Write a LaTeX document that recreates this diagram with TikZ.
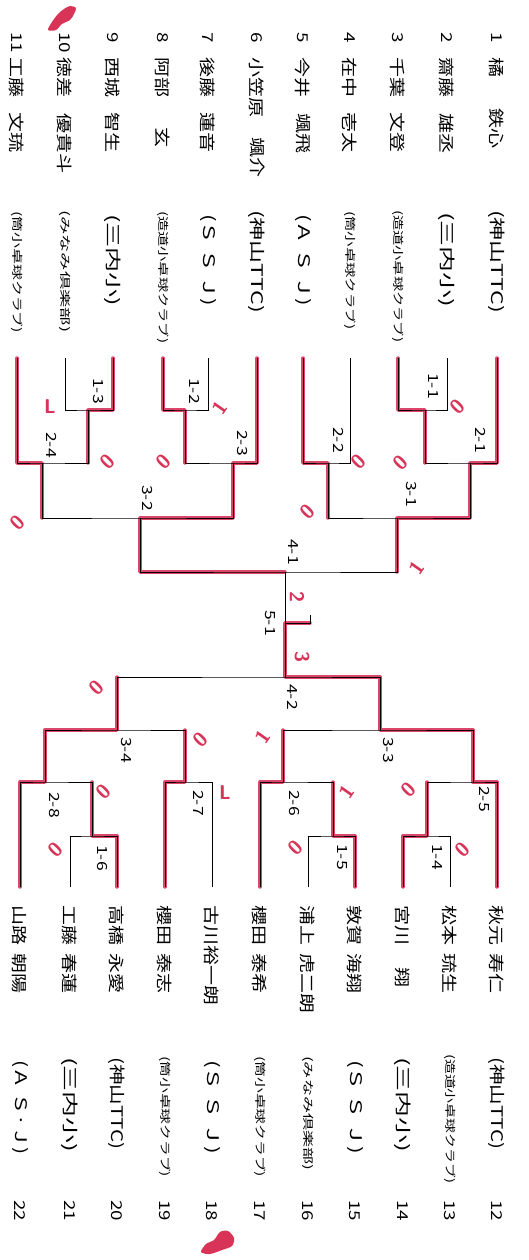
\documentclass[tikz,border=0pt]{standalone}
\usepackage{fontspec}
\usepackage{graphicx}
\usepackage{tikz}
\newfontfamily\jp[FakeStretch=1.25]{Noto Sans CJK JP}
\definecolor{penred}{RGB}{216,52,88}
\newcommand{\clubfit}[2]{\resizebox{#1}{\height}{#2}}

\begin{document}
\begin{tikzpicture}[
    x=1pt, y=-1pt,
    pnum/.style={rotate=-90, anchor=west, inner sep=0pt, font=\jp\fontsize{15}{15}\selectfont},
    pname/.style={rotate=-90, anchor=west, inner sep=0pt, font=\jp\fontsize{16}{16}\selectfont},
    club/.style={rotate=-90, anchor=west, inner sep=0pt, font=\jp\fontsize{16}{16}\selectfont},
    smallclub/.style={rotate=-90, anchor=west, inner sep=0pt, font=\jp\fontsize{11}{11}\selectfont},
    matchno/.style={rotate=-90, inner sep=0pt, font=\jp\fontsize{14}{14}\selectfont},
    penmark/.style={text=penred, inner sep=0pt, font=\sffamily\bfseries\fontsize{20}{20}\selectfont},
    bline/.style={draw=black, line width=1pt},
    win/.style={draw=penred, line width=3.4pt, opacity=0.9, line cap=round, line join=round}
]
    \path[use as bounding box, fill=white] (0,0) rectangle (528,1260);

    % Players 1-11
    \node (n1) [pnum] at (497,32) {1};
    \node (s1) [pname] at (497,57) {橘};
    \node (g1) [pname] at (497,108) {鉄心};
    \node (c1) [club] at (497,210) {\clubfit{103pt}{(神山TTC)}};
    \node (n2) [pnum] at (447,32) {2};
    \node (s2) [pname] at (447,57) {齋藤};
    \node (g2) [pname] at (447,113) {雄丞};
    \node (c2) [club] at (447,212) {\clubfit{95pt}{(三内小)}};
    \node (n3) [pnum] at (398,32) {3};
    \node (s3) [pname] at (398,57) {千葉};
    \node (g3) [pname] at (398,112) {文登};
    \node (c3) [smallclub] at (398,210) {\clubfit{132pt}{(造道小卓球クラブ)}};
    \node (n4) [pnum] at (350,32) {4};
    \node (s4) [pname] at (350,57) {在中};
    \node (g4) [pname] at (350,112) {壱太};
    \node (c4) [smallclub] at (350,211) {\clubfit{118pt}{(筒小卓球クラブ)}};
    \node (n5) [pnum] at (303,32) {5};
    \node (s5) [pname] at (303,57) {今井};
    \node (g5) [pname] at (303,113) {颯飛};
    \node (c5) [club] at (303,214) {\clubfit{92pt}{(Ａ Ｓ Ｊ)}};
    \node (n6) [pnum] at (257,32) {6};
    \node (s6) [pname] at (257,57) {小笠原};
    \node (g6) [pname] at (257,137) {颯介};
    \node (c6) [club] at (257,210) {\clubfit{103pt}{(神山TTC)}};
    \node (n7) [pnum] at (208,32) {7};
    \node (s7) [pname] at (208,57) {後藤};
    \node (g7) [pname] at (208,112) {蓮音};
    \node (c7) [club] at (208,214) {\clubfit{92pt}{(Ｓ Ｓ Ｊ)}};
    \node (n8) [pnum] at (163,32) {8};
    \node (s8) [pname] at (163,57) {阿部};
    \node (g8) [pname] at (163,127) {玄};
    \node (c8) [smallclub] at (163,211) {\clubfit{132pt}{(造道小卓球クラブ)}};
    \node (n9) [pnum] at (113,32) {9};
    \node (s9) [pname] at (113,57) {西城};
    \node (g9) [pname] at (113,112) {智生};
    \node (c9) [club] at (113,214) {\clubfit{92pt}{(三内小)}};
    \node (n10) [pnum] at (65,32) {10};
    \node (s10) [pname] at (65,57) {徳差};
    \node (g10) [pname] at (65,113) {優貴斗};
    \node (c10) [smallclub] at (65,210) {\clubfit{122pt}{(みなみ倶楽部)}};
    \node (n11) [pnum] at (17,32) {11};
    \node (s11) [pname] at (17,57) {工藤};
    \node (g11) [pname] at (17,112) {文琉};
    \node (c11) [smallclub] at (17,211) {\clubfit{122pt}{(筒小卓球クラブ)}};

    % Players 12-22
    \node (s12) [pname] at (497,905) {秋元};
    \node (g12) [pname] at (497,953) {寿仁};
    \node (c12) [club] at (497,1057) {\clubfit{92pt}{(神山TTC)}};
    \node (n12) [pnum] at (497,1200) {12};
    \node (s13) [pname] at (450,905) {松本};
    \node (g13) [pname] at (450,953) {琉生};
    \node (c13) [smallclub] at (450,1054) {\clubfit{129pt}{(造道小卓球クラブ)}};
    \node (n13) [pnum] at (450,1200) {13};
    \node (s14) [pname] at (403,905) {宮川};
    \node (g14) [pname] at (403,967) {翔};
    \node (c14) [club] at (403,1057) {\clubfit{95pt}{(三内小)}};
    \node (n14) [pnum] at (403,1200) {14};
    \node (s15) [pname] at (355,905) {敦賀};
    \node (g15) [pname] at (355,953) {海翔};
    \node (c15) [club] at (355,1060) {\clubfit{94pt}{(Ｓ Ｓ Ｊ)}};
    \node (n15) [pnum] at (355,1200) {15};
    \node (s16) [pname] at (308,905) {浦上};
    \node (g16) [pname] at (308,953) {虎二朗};
    \node (c16) [smallclub] at (308,1056) {\clubfit{114pt}{(みなみ倶楽部)}};
    \node (n16) [pnum] at (308,1200) {16};
    \node (s17) [pname] at (260,905) {櫻田};
    \node (g17) [pname] at (260,953) {泰希};
    \node (c17) [smallclub] at (260,1056) {\clubfit{121pt}{(筒小卓球クラブ)}};
    \node (n17) [pnum] at (260,1200) {17};
    \node (s18) [pname] at (212,905) {古川裕一朗};
    \node (c18) [club] at (212,1060) {\clubfit{94pt}{(Ｓ Ｓ Ｊ)}};
    \node (n18) [pnum] at (212,1200) {18};
    \node (s19) [pname] at (165,905) {櫻田};
    \node (g19) [pname] at (165,953) {泰志};
    \node (c19) [smallclub] at (165,1056) {\clubfit{121pt}{(筒小卓球クラブ)}};
    \node (n19) [pnum] at (165,1200) {19};
    \node (s20) [pname] at (117,905) {高橋};
    \node (g20) [pname] at (117,953) {永愛};
    \node (c20) [club] at (117,1057) {\clubfit{92pt}{(神山TTC)}};
    \node (n20) [pnum] at (117,1200) {20};
    \node (s21) [pname] at (70,905) {工藤};
    \node (g21) [pname] at (70,953) {春蓮};
    \node (c21) [club] at (70,1057) {\clubfit{95pt}{(三内小)}};
    \node (n21) [pnum] at (70,1200) {21};
    \node (s22) [pname] at (20,905) {山路};
    \node (g22) [pname] at (20,953) {朝陽};
    \node (c22) [club] at (20,1060) {\clubfit{94pt}{(Ａ Ｓ·Ｊ)}};
    \node (n22) [pnum] at (20,1200) {22};

    % Line ends and match points
    \coordinate (p1) at (497,358);  \coordinate (p2) at (447,358);
    \coordinate (p3) at (398,358);  \coordinate (p4) at (350,358);
    \coordinate (p5) at (303,358);  \coordinate (p6) at (257,358);
    \coordinate (p7) at (208,358);  \coordinate (p8) at (163,358);
    \coordinate (p9) at (113,358);  \coordinate (p10) at (65,358);
    \coordinate (p11) at (17,358);
    \coordinate (q12) at (497,887); \coordinate (q13) at (450,887);
    \coordinate (q14) at (403,887); \coordinate (q15) at (355,887);
    \coordinate (q16) at (308,887); \coordinate (q17) at (260,887);
    \coordinate (q18) at (212,887); \coordinate (q19) at (165,887);
    \coordinate (q20) at (117,887); \coordinate (q21) at (70,887);
    \coordinate (q22) at (20,887);
    \coordinate (m11) at (425,410); \coordinate (m12) at (185,410);
    \coordinate (m13) at (88,410);
    \coordinate (m21) at (470,463); \coordinate (m22) at (328,463);
    \coordinate (m23) at (233,463); \coordinate (m24) at (42,463);
    \coordinate (m31) at (397,518); \coordinate (m32) at (140,518);
    \coordinate (m41) at (285,572);
    \coordinate (m51) at (285,623); \coordinate (champ) at (310,623);
    \coordinate (m42) at (285,677);
    \coordinate (m33) at (380,730); \coordinate (m34) at (117,730);
    \coordinate (m25) at (473,782); \coordinate (m26) at (283,782);
    \coordinate (m27) at (185,782); \coordinate (m28) at (45,782);
    \coordinate (m14) at (427,836); \coordinate (m15) at (333,836);
    \coordinate (m16) at (92,836);

    % Winners (red pen)
    \draw [win] (p1) |- (m21) |- (m31) -- (m31 |- m41);
    \draw [win] (p3) |- (m11) -- (m11 |- m21);
    \draw [win] (p5) |- (m22) -- (m22 |- m31);
    \draw [win] (p6) |- (m23) |- (m32) |- (m41);
    \draw [win] (p8) |- (m12) -- (m12 |- m23);
    \draw [win] (p9) |- (m13) -- (m13 |- m24);
    \draw [win] (p11) |- (m24) -- (m24 |- m32);
    \draw [win] (q12) |- (m25) |- (m33) |- (m42) -- (m51) -- (champ);
    \draw [win] (q14) |- (m14) -- (m14 |- m25);
    \draw [win] (q15) |- (m15) -- (m15 |- m26);
    \draw [win] (q17) |- (m26) -- (m26 |- m33);
    \draw [win] (q19) |- (m27) -- (m27 |- m34);
    \draw [win] (q20) |- (m16) -- (m16 |- m28);
    \draw [win] (q22) |- (m28) |- (m34) -- (m34 |- m42);

    % Bracket
    \draw [bline] (p2) |- (m11) -| (p3);
    \draw [bline] (p1) |- (m21) -| (m11);
    \draw [bline] (p4) |- (m22) -| (p5);
    \draw [bline] (m21) |- (m31) -| (m22);
    \draw [bline] (p7) |- (m12) -| (p8);
    \draw [bline] (p6) |- (m23) -| (m12);
    \draw [bline] (p9) |- (m13) -| (p10);
    \draw [bline] (p11) |- (m24) -| (m13);
    \draw [bline] (m24) |- (m32) -| (m23);
    \draw [bline] (m32) |- (m41) -| (m31);
    \draw [bline] (m41) -- (m42);
    \draw [bline] (m51) -- (champ) -- ++(0,-8);
    \draw [bline] (m34) |- (m42) -| (m33);
    \draw [bline] (m28) |- (m34) -| (m27);
    \draw [bline] (m26) |- (m33) -| (m25);
    \draw [bline] (q12) |- (m25) -| (m14);
    \draw [bline] (q14) |- (m14) -| (q13);
    \draw [bline] (q17) |- (m26) -| (m15);
    \draw [bline] (q16) |- (m15) -| (q15);
    \draw [bline] (q19) |- (m27) -| (q18);
    \draw [bline] (q22) |- (m28) -| (m16);
    \draw [bline] (q21) |- (m16) -| (q20);

    % Match numbers
    \node (l11) [matchno] at (433,386) {1-1};
    \node (l12) [matchno] at (195,391) {1-2};
    \node (l13) [matchno] at (98,391) {1-3};
    \node (l21) [matchno] at (481,440) {2-1};
    \node (l22) [matchno] at (339,440) {2-2};
    \node (l23) [matchno] at (242,443) {2-3};
    \node (l24) [matchno] at (52,445) {2-4};
    \node (l31) [matchno] at (411,494) {3-1};
    \node (l32) [matchno] at (147,498) {3-2};
    \node (l41) [matchno] at (293,552) {4-1};
    \node (l51) [matchno] at (270,623) {5-1};
    \node (l42) [matchno] at (293,697) {4-2};
    \node (l33) [matchno] at (388,750) {3-3};
    \node (l34) [matchno] at (126,750) {3-4};
    \node (l25) [matchno] at (484,799) {2-5};
    \node (l26) [matchno] at (294,803) {2-6};
    \node (l27) [matchno] at (199,803) {2-7};
    \node (l28) [matchno] at (54,805) {2-8};
    \node (l14) [matchno] at (437,857) {1-4};
    \node (l15) [matchno] at (342,857) {1-5};
    \node (l16) [matchno] at (102,858) {1-6};

    % Scores (red pen)
    \node (r1) [penmark, rotate=45] at (457,407) {0};
    \node (r2) [penmark, rotate=45] at (400,463) {0};
    \node (r3) [penmark, rotate=45] at (358,462) {0};
    \node (r4) [penmark, rotate=45] at (307,512) {0};
    \node (r5) [penmark, rotate=55] at (417,568) {1};
    \node (r6) [penmark, rotate=55] at (220,408) {1};
    \node (r7) [penmark, rotate=45] at (163,462) {0};
    \node (r8) [penmark] at (50,407) {L};
    \node (r9) [penmark, rotate=45] at (107,462) {0};
    \node (r10) [penmark, rotate=45] at (17,523) {0};
    \node (r11) [penmark, rotate=-90] at (297,597) {2};
    \node (r12) [penmark, rotate=-90] at (302,657) {3};
    \node (r13) [penmark, rotate=45] at (96,688) {0};
    \node (r14) [penmark, rotate=55] at (263,737) {1};
    \node (r15) [penmark, rotate=45] at (200,740) {0};
    \node (r16) [penmark, rotate=45] at (408,790) {0};
    \node (r17) [penmark, rotate=55] at (347,792) {1};
    \node (r18) [penmark] at (225,793) {L};
    \node (r19) [penmark, rotate=45] at (103,792) {0};
    \node (r20) [penmark, rotate=45] at (462,850) {0};
    \node (r21) [penmark, rotate=45] at (295,848) {0};
    \node (r22) [penmark, rotate=45] at (55,850) {0};

    % Pen blots
    \fill [penred] plot [smooth cycle] coordinates {(48,30) (52,22) (58,14) (64,9) (70,6) (76,8) (74,14) (70,20) (62,24) (56,30)};
    \fill [penred] plot [smooth cycle] coordinates {(201,1252) (206,1244) (214,1240) (220,1232) (228,1231) (234,1238) (232,1246) (222,1250) (210,1254)};
\end{tikzpicture}
\end{document}
